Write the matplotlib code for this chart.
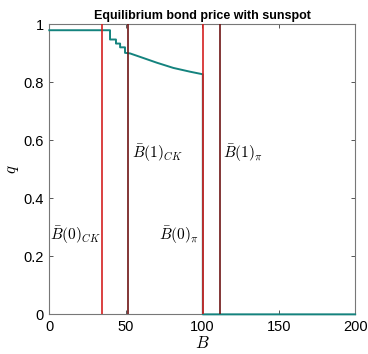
import matplotlib
matplotlib.use("Agg")
import matplotlib.pyplot as plt

plt.rcParams["mathtext.fontset"] = "cm"
plt.rcParams["font.family"] = ["Liberation Sans", "DejaVu Sans"]

# equilibrium bond price q(B)
B_vals = [0, 39.7, 39.7, 43.6, 43.6, 46.3, 46.3, 49.5, 49.5, 52.8, 59.4,
          70.3, 81.1, 92.0, 100.4, 100.4, 200]
q_vals = [0.98, 0.98, 0.948, 0.948, 0.934, 0.934, 0.921, 0.921, 0.902, 0.90,
          0.888, 0.868, 0.850, 0.837, 0.828, 0.0, 0.0]

# debt thresholds
thresholds = [34.4, 51.2, 100.8, 111.8]
threshold_kind = ["red", "dark", "red", "dark"]
labels = [r"$\bar{B}(0)_{CK}$", r"$\bar{B}(1)_{CK}$", r"$\bar{B}(0)_{\pi}$", r"$\bar{B}(1)_{\pi}$"]
label_x = [0, 53.5, 71, 113]
label_y = [0.273, 0.556, 0.273, 0.556]

colors = {"red": "#d42020", "dark": "#6e1414"}

fig = plt.figure(figsize=(3.68, 3.54), dpi=100)
ax = fig.add_axes([0.134, 0.112, 0.831, 0.819])

ax.plot(B_vals, q_vals, color="#14837e", lw=1.4, zorder=2.6, clip_on=False)
for xv, kind in zip(thresholds, threshold_kind):
    ax.axvline(xv, color=colors[kind], lw=1.2, zorder=2.7)
for xt, yt, lab in zip(label_x, label_y, labels):
    ax.text(xt + 0.5, yt, lab, fontsize=11, va="center", ha="left")

ax.set_xlim(0, 200)
ax.set_ylim(0, 1)
ax.set_xticks([0, 50, 100, 150, 200])
ax.set_yticks([0, 0.2, 0.4, 0.6, 0.8, 1])
ax.set_yticklabels(["0", "0.2", "0.4", "0.6", "0.8", "1"])
ax.tick_params(direction="in", top=True, right=True, labelsize=10.5,
               length=3, color="#555555", width=0.7, pad=4)
for s in ax.spines.values():
    s.set_color("#777777")
    s.set_linewidth(0.8)
ax.set_xlabel(r"$B$", fontsize=12, labelpad=1)
ax.set_ylabel(r"$q$", fontsize=12, labelpad=2)
ax.set_title("Equilibrium bond price with sunspot", fontsize=9, fontweight="bold", pad=4)

fig.savefig("out.png", dpi=100)
